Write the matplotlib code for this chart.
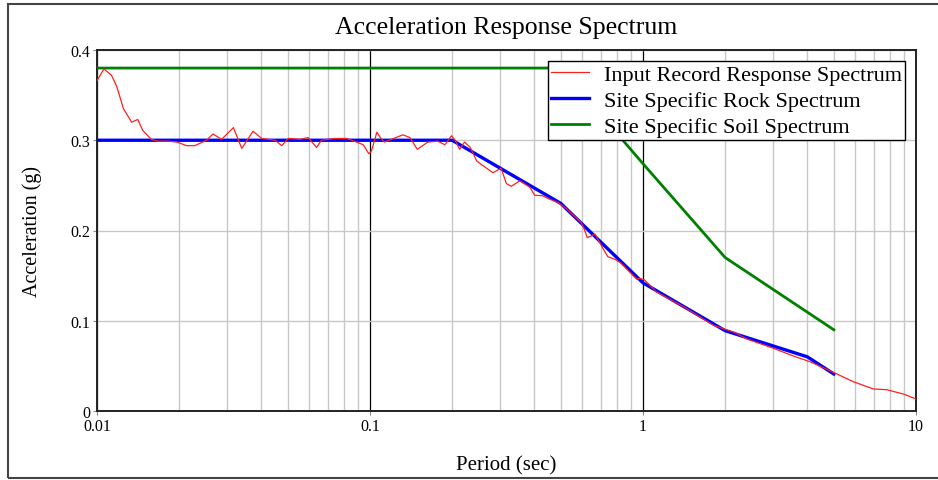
import matplotlib
matplotlib.use("Agg")
import matplotlib.pyplot as plt
from matplotlib.patches import Rectangle
from matplotlib.ticker import FixedLocator, NullFormatter

plt.rcParams["font.family"] = ["Liberation Serif", "DejaVu Serif"]

# input record response spectrum
rec_period = [0.01, 0.0106, 0.0113, 0.0118, 0.0125, 0.0134, 0.0141, 0.0147, 0.0158,
              0.0167, 0.0182, 0.0196, 0.0213, 0.0228, 0.0252, 0.0266, 0.0286, 0.0316,
              0.0339, 0.0373, 0.0401, 0.0449, 0.0475, 0.0502, 0.0554, 0.0594, 0.0637,
              0.0664, 0.0743, 0.0822, 0.0893, 0.0945, 0.099, 0.1012, 0.106, 0.109,
              0.113, 0.122, 0.132, 0.140, 0.149, 0.163, 0.177, 0.188, 0.199, 0.205,
              0.213, 0.222, 0.233, 0.246, 0.259, 0.282, 0.302, 0.316, 0.329, 0.354,
              0.385, 0.401, 0.428, 0.452, 0.489, 0.525, 0.593, 0.609, 0.625, 0.667,
              0.705, 0.743, 0.790, 0.830, 0.948, 0.974, 1.01, 1.05, 1.12, 1.40, 1.81,
              2.17, 2.40, 3.00, 3.55, 4.09, 4.98, 5.89, 6.98, 7.81, 8.99, 10.0]
rec_accel = [0.366, 0.379, 0.372, 0.360, 0.335, 0.320, 0.323, 0.311, 0.301,
             0.299, 0.299, 0.298, 0.294, 0.294, 0.300, 0.307, 0.301, 0.314,
             0.291, 0.310, 0.302, 0.300, 0.294, 0.302, 0.301, 0.303, 0.292,
             0.300, 0.302, 0.302, 0.298, 0.295, 0.285, 0.288, 0.309, 0.303,
             0.298, 0.302, 0.306, 0.303, 0.290, 0.298, 0.299, 0.295, 0.305, 0.300,
             0.290, 0.298, 0.292, 0.277, 0.272, 0.264, 0.269, 0.252, 0.249, 0.255,
             0.248, 0.239, 0.2386, 0.235, 0.231, 0.224, 0.209, 0.2017, 0.192, 0.196,
             0.183, 0.171, 0.168, 0.164, 0.146, 0.147, 0.1455, 0.1407, 0.132, 0.116, 0.095,
             0.087, 0.0798, 0.0695, 0.061, 0.0546, 0.0429, 0.0325, 0.0244, 0.0236, 0.0188, 0.0133]

rock_period = [0.01, 0.2, 0.5, 1.0, 2.0, 4.0, 5.0]
rock_accel = [0.30, 0.30, 0.23, 0.142, 0.089, 0.060, 0.041]

soil_period = [0.01, 0.5, 1.0, 2.0, 5.0]
soil_accel = [0.38, 0.38, 0.274, 0.170, 0.090]

x_ticks = [0.01, 0.1, 1, 10]
x_ticklabels = ["0.01", "0.1", "1", "10"]
y_ticks = [0, 0.1, 0.2, 0.3, 0.4]
y_ticklabels = ["0", "0.1", "0.2", "0.3", "0.4"]

fig = plt.figure(figsize=(9.38, 4.81), dpi=100)
ax = fig.add_axes([97 / 938, 69 / 481, 819 / 938, 361 / 481])

# outer frame of the picture
fig.patches.append(Rectangle((8 / 938, 2 / 481), 1.2, 474 / 481, transform=fig.transFigure,
                             fill=False, edgecolor="#444444", linewidth=1.5))

ax.set_xscale("log")
ax.set_xlim(0.01, 10)
ax.set_ylim(0, 0.4)

minor = [m * d for d in (0.01, 0.1, 1) for m in range(2, 10)]
ax.xaxis.set_minor_locator(FixedLocator(minor))
ax.xaxis.set_minor_formatter(NullFormatter())
ax.set_xticks(x_ticks)
ax.set_xticklabels(x_ticklabels)
ax.set_yticks(y_ticks)
ax.set_yticklabels(y_ticklabels)

ax.grid(True, which="minor", axis="x", color="#c8c8c8", linewidth=1.0)
ax.grid(True, which="major", axis="y", color="#c8c8c8", linewidth=1.0)
ax.grid(True, which="major", axis="x", color="black", linewidth=0.9)
ax.set_axisbelow(True)

ax.tick_params(axis="both", which="both", labelsize=11.5, length=3, width=0.8,
               color="#888888", pad=2)
ax.tick_params(axis="x", which="minor", length=0)
for sp in ax.spines.values():
    sp.set_linewidth(1.4)
    sp.set_color("#222222")

ax.plot(soil_period, soil_accel, color="#008000", linewidth=2.0,
        label="Site Specific Soil Spectrum", zorder=3)
ax.plot(rock_period, rock_accel, color="#0000ff", linewidth=2.4,
        label="Site Specific Rock Spectrum", zorder=4)
ax.plot(rec_period, rec_accel, color="#ff2020", linewidth=0.9,
        label="Input Record Response Spectrum", zorder=5)

handles, labels = ax.get_legend_handles_labels()
leg = ax.legend(handles[::-1], labels[::-1], loc="upper right",
                bbox_to_anchor=(1 - 11 / 819, 1 - 11 / 361), fontsize=16,
                fancybox=False, framealpha=1, edgecolor="black",
                borderpad=0.15, labelspacing=0.25, handlelength=1.7,
                handletextpad=0.65, borderaxespad=0)
leg.get_frame().set_linewidth(1.0)
leg.set_zorder(10)

ax.set_title("Acceleration Response Spectrum", fontsize=18.5, pad=12)
ax.set_xlabel("Period (sec)", fontsize=15)
ax.xaxis.set_label_coords(0.5, -(466 - 412) / 361)
ax.xaxis.label.set_va("center")
ax.set_ylabel("Acceleration (g)", fontsize=14.5)
ax.yaxis.set_label_coords((32 - 97) / 819, 0.5)
ax.yaxis.label.set_va("center")

fig.savefig("out.png", dpi=100)
